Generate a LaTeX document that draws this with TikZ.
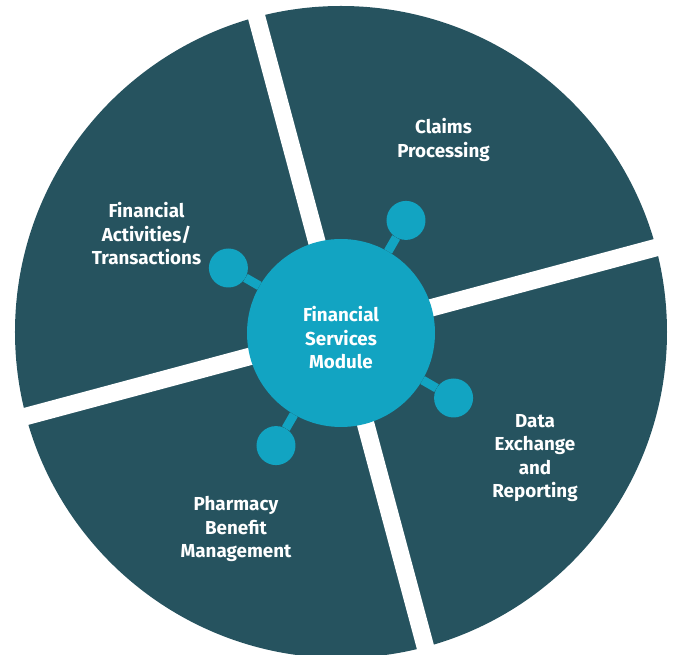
\documentclass[tikz,border=0pt]{standalone}
\usepackage{fontspec}
\setmainfont{Fira Sans}
\usetikzlibrary{positioning}
\definecolor{slate}{HTML}{26535F}
\definecolor{hubblue}{HTML}{12A4C2}
\tikzset{
  wheel/.style={fill=slate},
  gap/.style={draw=white, line width=17.5pt},
  hub/.style={circle, fill=hubblue, minimum size=188pt, inner sep=0pt},
  knob/.style={circle, fill=hubblue, minimum size=39pt, inner sep=0pt},
  stem/.style={draw=hubblue, line width=9pt},
  segtext/.style={align=center, text=white, font=\bfseries\fontsize{18.8}{23.5}\selectfont}
}

\begin{document}
\begin{tikzpicture}[x=1pt,y=1pt]
\useasboundingbox (-341,-323) rectangle (334,332);
% wheel and the two white cuts
\fill[wheel] (0,0) circle (326);
\foreach \a in {15,105} {\draw[gap] (\a:345) -- (\a+180:345);}
% hub with its four knobs
\node[hub] (fsm) at (0,-1) {};
\node[knob] (k1) at ([shift={(60:130)}]fsm.center) {};
\node[knob] (k2) at ([shift={(150:130)}]fsm.center) {};
\node[knob] (k3) at ([shift={(240:130)}]fsm.center) {};
\node[knob] (k4) at ([shift={(330:130)}]fsm.center) {};
\foreach \k in {k1,k2,k3,k4} {\draw[stem] (fsm) -- (\k);}
\node[segtext] (fsmtext) at ([yshift=-5pt]fsm.center) {Financial\\Services\\Module};
% segment labels
\node[segtext] (claims) at (102.5,192) {Claims\\Processing};
\node[segtext] (fin) at (-194.5,98) {Financial\\Activities/\\Transactions};
\node[segtext] (data) at (194,-126) {Data\\Exchange\\and\\Reporting};
\node[segtext] (pbm) at (-105,-197) {Pharmacy\\Benefit\\Management};
\end{tikzpicture}
\end{document}
